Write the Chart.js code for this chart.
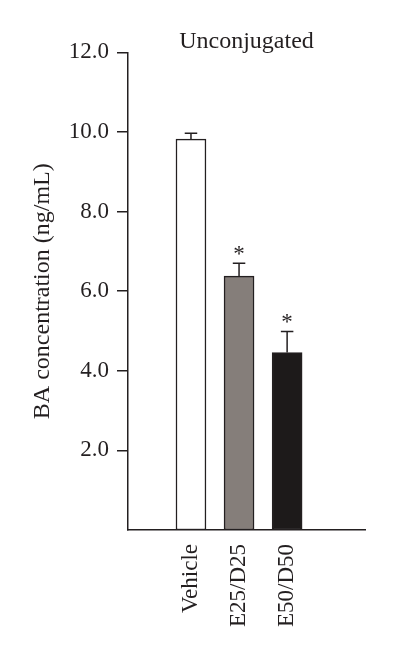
<!DOCTYPE html>
<html>
<head>
<meta charset="utf-8">
<script src="https://cdn.jsdelivr.net/npm/chart.js@4/dist/chart.umd.min.js"></script>
<style>
html,body{margin:0;padding:0;background:#fff;}
canvas{display:block;}
</style>
</head>
<body>
<canvas id="c" width="396" height="660"></canvas>
<script>
const categories = ["Vehicle", "E25/D25", "E50/D50"];
const values = [9.82, 6.38, 4.46];
const errors = [0.15, 0.32, 0.53];
const marks = ["", "*", "*"];
const yTicks = [2, 4, 6, 8, 10, 12];
const fills = ["#ffffff", "#857e7a", "#1d1a1a"];

const ink = "#231f20";
const serif = "'Liberation Serif', 'DejaVu Serif', serif";

const errorPlugin = {
  id: "errs",
  afterDatasetsDraw(chart) {
    const ctx = chart.ctx;
    const xs = chart.scales.x, ys = chart.scales.y;
    ctx.save();
    ctx.strokeStyle = ink;
    ctx.lineWidth = 1.5;
    categories.forEach((c, i) => {
      const x = xs.getPixelForValue(i + 1);
      const yTop = ys.getPixelForValue(values[i]);
      const yErr = ys.getPixelForValue(values[i] + errors[i]);
      ctx.beginPath();
      ctx.moveTo(x, yTop);
      ctx.lineTo(x, yErr);
      ctx.moveTo(x - 6.25, yErr);
      ctx.lineTo(x + 6.25, yErr);
      ctx.stroke();
      if (marks[i]) {
        ctx.fillStyle = ink;
        ctx.font = "23px " + serif;
        ctx.textAlign = "center";
        ctx.textBaseline = "alphabetic";
        ctx.fillText(marks[i], x, yErr - 2);
      }
    });
    ctx.restore();
  }
};

new Chart(document.getElementById("c"), {
  type: "bar",
  data: {
    datasets: [{
      data: values.map((v, i) => ({ x: i + 1, y: v })),
      backgroundColor: fills,
      borderColor: ink,
      borderWidth: 1.5,
      barThickness: 30,
      borderSkipped: false
    }]
  },
  options: {
    responsive: false,
    animation: false,
    layout: { padding: { left: 0, right: 31, top: 0, bottom: 0 } },
    plugins: {
      legend: { display: false },
      tooltip: { enabled: false },
      title: {
        display: true,
        text: "Unconjugated",
        fullSize: false,
        color: ink,
        font: { family: serif, size: 24, weight: "normal", lineHeight: 0.85 },
        padding: { top: 32, bottom: 0 }
      }
    },
    scales: {
      x: {
        type: "linear",
        offset: false,
        min: -0.31,
        max: 4.62,
        afterBuildTicks(s) { s.ticks = categories.map((c, i) => ({ value: i + 1 })); },
        afterFit(s) { s.height = 130; },
        grid: { display: false, offset: false },
        border: { display: true, color: ink, width: 1.5 },
        ticks: {
          autoSkip: false,
          maxRotation: 90,
          minRotation: 90,
          padding: 6,
          color: ink,
          font: { family: serif, size: 23 },
          callback: (v) => categories[v - 1] || ""
        }
      },
      y: {
        min: 0,
        max: 12,
        afterBuildTicks(s) { s.ticks = yTicks.map(v => ({ value: v })); },
        afterFit(s) { s.width = 128; },
        grid: { drawOnChartArea: false, drawTicks: true, tickLength: 11, color: ink, lineWidth: 1.5 },
        border: { display: true, color: ink, width: 1.5 },
        ticks: {
          padding: 8,
          color: ink,
          font: { family: serif, size: 23 },
          callback: (v) => v.toFixed(1)
        },
        title: {
          display: true,
          text: "BA concentration (ng/mL)",
          color: ink,
          font: { family: serif, size: 24, lineHeight: 1.2 },
          padding: { top: 28, bottom: 0 }
        }
      }
    }
  },
  plugins: [errorPlugin]
});
</script>
</body>
</html>
